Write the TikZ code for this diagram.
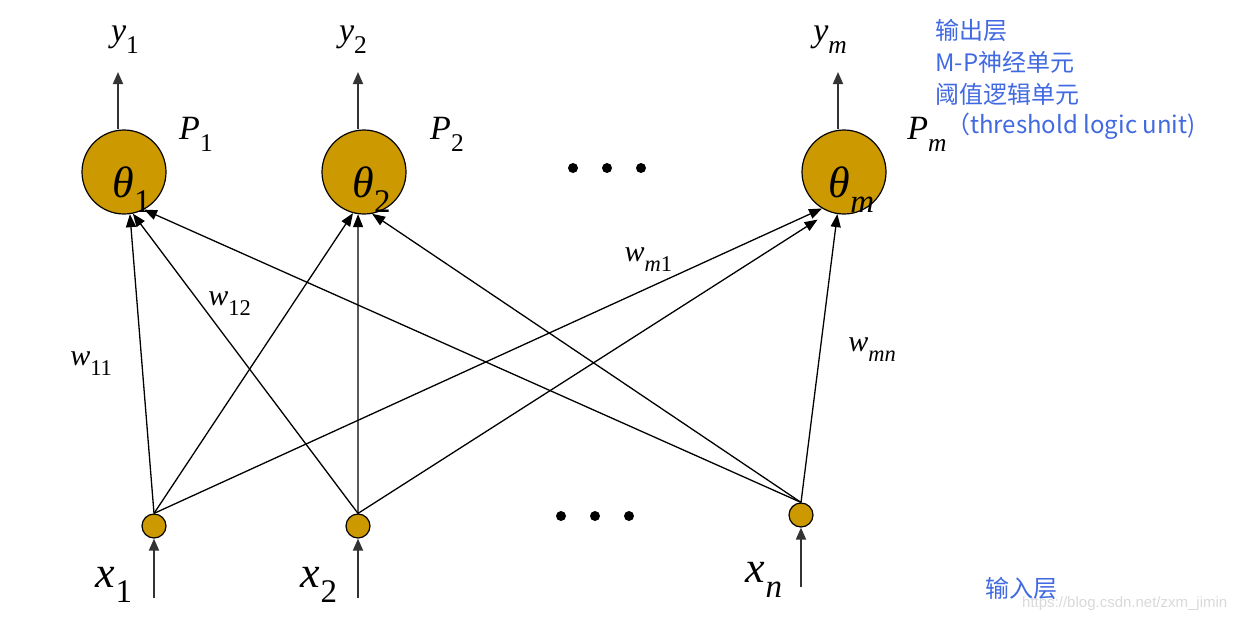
\documentclass[tikz,border=0pt]{standalone}
\usepackage{fontspec}
\setmainfont{Liberation Serif}
\newfontfamily\cjk{Noto Sans CJK SC}
\newfontfamily\wmfont{Liberation Sans}
\usepackage{graphicx}
\usetikzlibrary{arrows.meta}
\definecolor{gold}{RGB}{204,153,0}
\definecolor{noteblue}{RGB}{65,105,225}
\newcommand{\ix}[2]{\textit{#1}\raisebox{-0.35em}{\scalebox{0.75}{#2}}}
\newcommand{\thlabel}[1]{\raisebox{-25pt}[0pt][0pt]{\hspace*{15pt}\ix{θ}{#1}}}
\tikzset{unit/.style={circle,draw,fill=gold,line width=1.2pt,minimum size=84pt,inner sep=0pt,font=\fontsize{44}{44}\selectfont}}
\tikzset{inp/.style={circle,draw,fill=gold,line width=1.2pt,minimum size=24pt,inner sep=0pt}}
\tikzset{dot/.style={circle,fill,minimum size=10pt,inner sep=0pt}}
\tikzset{io/.style={-{Triangle[length=12pt,width=10pt]},line width=1.8pt,draw=black!80}}
\tikzset{wt/.style={-{Triangle[length=13pt,width=10pt]},line width=1.3pt}}
\tikzset{l/.style={font=\fontsize{30}{30}\selectfont}}
\tikzset{v/.style={font=\fontsize{34}{34}\selectfont}}
\tikzset{note/.style={font=\cjk\fontsize{24}{28}\selectfont,text=noteblue,anchor=west,inner sep=0pt}}

\begin{document}
\begin{tikzpicture}[x=1pt,y=-1pt,line join=round]
  \useasboundingbox (0,0) rectangle (1249,622);
  % output layer
  \node[unit] (P1) at (124,172) {\thlabel{1}};
  \node[unit] (P2) at (364,172) {\thlabel{2}};
  \node[unit] (Pm) at (844,172) {\thlabel{\textit{m}}};
  \node[v] (L1) at (196,134) {\ix{P}{1}};
  \node[v] (L2) at (447,134) {\ix{P}{2}};
  \node[v] (Lm) at (927,134) {\ix{P}{\textit{m}}};
  \node[dot] (D1) at (573,168) {};
  \node[dot] (D2) at (607,168) {};
  \node[dot] (D3) at (641,168) {};
  % outputs
  \node[v] (Y1) at (125,40) {\ix{y}{1}};
  \node[v] (Y2) at (353,40) {\ix{y}{2}};
  \node[v] (Ym) at (830,40) {\ix{y}{\textit{m}}};
  \coordinate (T1) at (118,72);
  \coordinate (T2) at (358,72);
  \coordinate (Tm) at (838,72);
  \draw[io] (P1.north -| T1) -- (T1);
  \draw[io] (P2.north -| T2) -- (T2);
  \draw[io] (Pm.north -| Tm) -- (Tm);
  % input layer
  \node[inp] (X1) at (154,526) {};
  \node[inp] (X2) at (358,526) {};
  \node[inp] (Xn) at (801,515) {};
  \node[dot] (D4) at (561,516) {};
  \node[dot] (D5) at (595,516) {};
  \node[dot] (D6) at (629,516) {};
  \node[font=\fontsize{44}{44}\selectfont] (I1) at (114,585) {\ix{x}{1}};
  \node[font=\fontsize{44}{44}\selectfont] (I2) at (319,585) {\ix{x}{2}};
  \node[font=\fontsize{44}{44}\selectfont] (In) at (764,580) {\ix{x}{\textit{n}}};
  \coordinate (B1) at (154,598);
  \coordinate (B2) at (358,598);
  \coordinate (Bn) at (801,587);
  \draw[io] (B1) -- (X1.south);
  \draw[io] (B2) -- (X2.south);
  \draw[io] (Bn) -- (Xn.south);
  % weights
  \path (X1.north) edge [wt] node [l, pos=.5, left=26pt] {\ix{w}{11}} (P1.-82)
                   edge [wt] (P2.-105)
                   edge [wt] node [l, pos=.74, above=12pt] {\ix{w}{\textit{m}1}} (Pm.-121);
  \path (X2.north) edge [wt] node [l, pos=.7, right=4pt] {\ix{w}{12}} (P1.-78)
                   edge [wt] (P2.-98)
                   edge [wt, shorten >=14pt] (Pm.-110);
  \path (Xn.north) edge [wt] (P1.-62)
                   edge [wt] (P2.-79)
                   edge [wt] node [l, pos=.53, right=24pt] {\ix{w}{\textit{mn}}} (Pm.-99);
  % notes
  \node[note] (N1) at (935,30) {输出层};
  \node[note] (N2) at (935,62) {M-P神经单元};
  \node[note] (N3) at (935,94) {阈值逻辑单元};
  \node[note] (N4) at (946,126) {（threshold logic unit)};
  \node[note] (N5) at (985,588) {输入层};
  \node[font=\wmfont\fontsize{15}{15}\selectfont,text=black!15,anchor=west,inner sep=0pt] (WM) at (1022,604) {https://blog.csdn.net/zxm\_jimin};
\end{tikzpicture}
\end{document}
